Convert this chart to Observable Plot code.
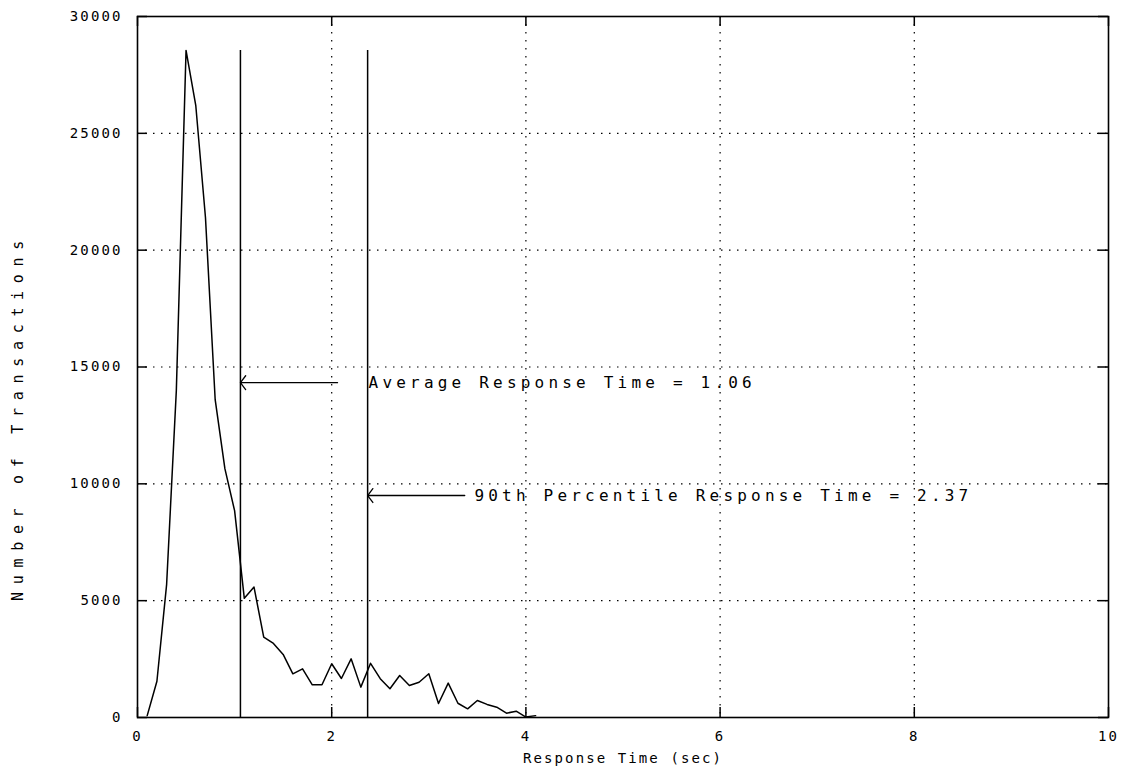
<!DOCTYPE html>
<html>
<head>
<meta charset="utf-8">
<script src="https://cdn.jsdelivr.net/npm/d3@7"></script>
<script src="https://cdn.jsdelivr.net/npm/@observablehq/plot@0.6"></script>
<style>
  html, body { margin: 0; padding: 0; background: #fff; }
  #chart svg { display: block; }
</style>
</head>
<body>
<div id="chart"></div>
<script>
// ---- data ----
const times = [0.1, 0.2, 0.3, 0.4, 0.5, 0.6, 0.7, 0.8, 0.9, 1.0,
               1.1, 1.2, 1.3, 1.4, 1.5, 1.6, 1.7, 1.8, 1.9, 2.0,
               2.1, 2.2, 2.3, 2.4, 2.5, 2.6, 2.7, 2.8, 2.9, 3.0,
               3.1, 3.2, 3.3, 3.4, 3.5, 3.6, 3.7, 3.8, 3.9, 4.0, 4.1];
const counts = [80, 1550, 5700, 14000, 28550, 26200, 21400, 13600, 10650, 8850,
                5100, 5580, 3440, 3170, 2700, 1870, 2080, 1400, 1400, 2300,
                1670, 2510, 1300, 2320, 1660, 1230, 1800, 1370, 1510, 1870,
                600, 1470, 610, 370, 730, 560, 440, 185, 270, 20, 80];

const xTicks = [0, 2, 4, 6, 8, 10];
const yTicks = [0, 5000, 10000, 15000, 20000, 25000, 30000];
const xGrid = [2, 4, 6, 8];
const yGrid = [5000, 10000, 15000, 20000, 25000];

const markerTimes = [1.06, 2.37];             // average, 90th percentile
const annotLabels = ["Average Response Time = 1.06", "90th Percentile Response Time = 2.37"];
const annotLevels = [14330, 9500];           // y level of arrow + text
const annotTails = [2.06, 3.37];             // arrow tail (x)
const annotTextX = [2.38, 3.47];             // text start (x)

const xLabel = "Response Time (sec)";
const yLabel = "Number of Transactions";

// ---- derived tables ----
const rows = times.map((t, i) => ({t, n: counts[i]}));
const peak = d3.max(counts);
const annots = annotLabels.map((label, i) => ({
  label, head: markerTimes[i], tail: annotTails[i], level: annotLevels[i], tx: annotTextX[i]
}));

const W = 1140, H = 774;
const mL = 137, mR = 32, mT = 16, mB = 57;
const plotW = W - mL - mR, plotH = H - mT - mB;
const tickLen = 10;
const font = "DejaVu Sans Mono";

const grid = {stroke: "black", strokeWidth: 1.2, strokeDasharray: "1.5,6.5"};

const chart = Plot.plot({
  width: W, height: H,
  marginLeft: mL, marginRight: mR, marginTop: mT, marginBottom: mB,
  x: {domain: [0, 10], axis: null},
  y: {domain: [0, 30000], axis: null},
  style: {fontFamily: font, color: "black", background: "white"},
  marks: [
    Plot.ruleX(xGrid, {x: d => d, ...grid}),
    Plot.ruleY(yGrid, {y: d => d, ...grid}),
    // inward tick marks on all four sides
    Plot.ruleX(xTicks, {x: d => d, stroke: "black", strokeWidth: 1.5, insetTop: plotH - tickLen}),
    Plot.ruleX(xTicks, {x: d => d, stroke: "black", strokeWidth: 1.5, insetBottom: plotH - tickLen}),
    Plot.ruleY(yTicks, {y: d => d, stroke: "black", strokeWidth: 1.5, insetRight: plotW - tickLen}),
    Plot.ruleY(yTicks, {y: d => d, stroke: "black", strokeWidth: 1.5, insetLeft: plotW - tickLen}),
    Plot.frame({stroke: "black", strokeWidth: 1.6}),
    // histogram line
    Plot.line(rows, {x: "t", y: "n", stroke: "black", strokeWidth: 1.5}),
    // average & 90th percentile markers
    Plot.ruleX(markerTimes, {x: d => d, y1: 0, y2: peak, stroke: "black", strokeWidth: 1.5}),
    // annotation arrows
    Plot.arrow(annots, {x1: "tail", x2: "head", y1: "level", y2: "level",
      stroke: "black", strokeWidth: 1.3, headLength: 10, headAngle: 106, bend: 0}),
    Plot.text(annots, {x: "tx", y: "level", text: "label", textAnchor: "start",
      fontSize: 16, fill: "black"}),
    // tick labels
    Plot.text(xTicks, {x: d => d, frameAnchor: "bottom", dy: 23, text: d => String(d),
      fontSize: 14, fill: "black"}),
    Plot.text(yTicks, {y: d => d, frameAnchor: "left", dx: -15, textAnchor: "end",
      text: d => String(d), fontSize: 14, fill: "black"}),
    // axis titles
    Plot.text([xLabel], {frameAnchor: "bottom", dy: 45, textAnchor: "middle", text: d => d,
      fontSize: 14, fill: "black"}),
    Plot.text([yLabel], {frameAnchor: "left", dx: -119, dy: 50, rotate: -90, textAnchor: "middle",
      text: d => d, fontSize: 15, fill: "black"})
  ]
});

// spacing of the wide bitmap-like terminal font
d3.select(chart).selectAll('g[aria-label="text"]').each(function() {
  const fs = this.getAttribute("font-size");
  const ls = fs === "16" ? 4.2 : fs === "15" ? 7.7 : 2.1;
  d3.select(this).attr("letter-spacing", ls);
});

document.getElementById("chart").appendChild(chart);
</script>
</body>
</html>
